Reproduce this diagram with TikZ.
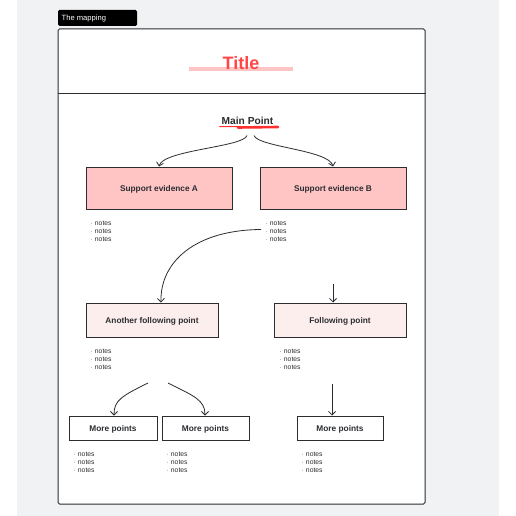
\documentclass[tikz,border=0pt]{standalone}
\usepackage{fontspec}
\setmainfont{Liberation Sans}
\usetikzlibrary{arrows.meta}
\definecolor{ink}{HTML}{2B2D31}
\definecolor{bggray}{HTML}{F1F2F4}
\definecolor{pinkA}{HTML}{FFC5C5}
\definecolor{pinkL}{HTML}{FDEEEE}
\definecolor{titlered}{HTML}{FF4747}
\definecolor{scribred}{HTML}{FF3030}
\tikzset{
  conn/.style={draw=ink, line width=0.8pt, -{Straight Barb[length=3.5pt,width=7pt]}},
  boxbase/.style={draw=ink, line width=1pt, inner sep=0pt, text height=6pt, text depth=0pt, font=\fontsize{8.3}{10}\selectfont\bfseries, text=ink},
  boxA/.style={boxbase, fill=pinkA},
  boxL/.style={boxbase, fill=pinkL},
  boxW/.style={boxbase, fill=white},
  notes/.style={anchor=north west, inner sep=0pt, align=left, text=ink, font=\fontsize{6.8}{8}\selectfont},
}
\newcommand{\notestext}{$\cdot$ notes\\ $\cdot$ notes\\ $\cdot$ notes}
\begin{document}
\begin{tikzpicture}[x=1pt,y=-1pt]
\useasboundingbox (0,0) rectangle (516,516);
\fill[white] (0,0) rectangle (516,516);
\fill[bggray] (17,0) rectangle (499,516);
% label
\node[fill=black, rounded corners=1.5pt, minimum width=79pt, minimum height=16pt, inner sep=0pt] (lab) at (97.5,18) {};
\node[anchor=west, text=white, inner sep=0pt, font=\fontsize{7.6}{9}\selectfont] (labtext) at (61.5,18.5) {The mapping};
% frame
\node[draw=ink, line width=1pt, fill=white, rounded corners=1.5pt, minimum width=367pt, minimum height=475pt, inner sep=0pt] (frame) at (241.5,266.5) {};
\draw[ink, line width=1pt] (frame.west |- 0,94) coordinate (dl) -- (frame.east |- 0,94) coordinate (dr);
% title
\fill[pinkA] (189,67) rectangle (293,71.5);
\node[text=titlered, inner sep=0pt, font=\fontsize{18}{20}\selectfont\bfseries] (title) at (241,63.5) {Title};
% main point
\node[text=ink, inner sep=0pt, font=\fontsize{10.2}{12}\selectfont\bfseries] (main) at (247.5,120.5) {Main Point};
\draw[scribred, line width=1pt, line cap=round] (219.5,126.5) -- (258,127);
\draw[scribred, line width=2.6pt, line cap=round] (238,127.5) -- (278,127);
\coordinate (mL) at (247,135.5);
\coordinate (mR) at (254,135.5);
% level 1
\node[boxA, minimum width=146pt, minimum height=42pt] (A) at (159,188) {Support evidence A};
\node[boxA, minimum width=146pt, minimum height=42pt] (B) at (333,188) {Support evidence B};
\node[notes] (nA) at (90.5,221) {\notestext};
\node[notes] (nB) at (265.5,221) {\notestext};
\draw[conn] (mL) .. controls (244,147) and (163,150) .. (A.north);
\draw[conn] (mR) .. controls (258,147) and (329,150) .. (B.north);
% level 2
\node[boxL, minimum width=132pt, minimum height=34pt] (C) at (152,320) {Another following point};
\node[boxL, minimum width=132pt, minimum height=34pt] (D) at (340,320) {Following point};
\node[notes] (nC) at (90.5,349) {\notestext};
\node[notes] (nD) at (279.5,349) {\notestext};
\coordinate (bs) at (261,229.5);
\draw[conn] (bs) .. controls (195,230) and (160,262) .. (C.north -| 161,0);
\coordinate (ds) at (333,284);
\draw[conn] (ds) -- (D.north -| 333,0);
% level 3
\node[boxW, minimum width=88pt, minimum height=24pt] (E) at (113,428) {More points};
\node[boxW, minimum width=87pt, minimum height=24pt] (F) at (205.5,428) {More points};
\node[boxW, minimum width=86pt, minimum height=24pt] (G) at (340,428) {More points};
\node[notes] (nE) at (73.5,452) {\notestext};
\node[notes] (nF) at (166.5,452) {\notestext};
\node[notes] (nG) at (301.5,452) {\notestext};
\coordinate (es) at (148,383);
\coordinate (fs) at (168,383);
\coordinate (gs) at (332,384);
\draw[conn] (es) .. controls (122,396) and (114,400) .. (E.north -| 114,0);
\draw[conn] (fs) .. controls (194,396) and (205,400) .. (F.north -| 205,0);
\draw[conn] (gs) -- (G.north -| 332,0);
\end{tikzpicture}
\end{document}
